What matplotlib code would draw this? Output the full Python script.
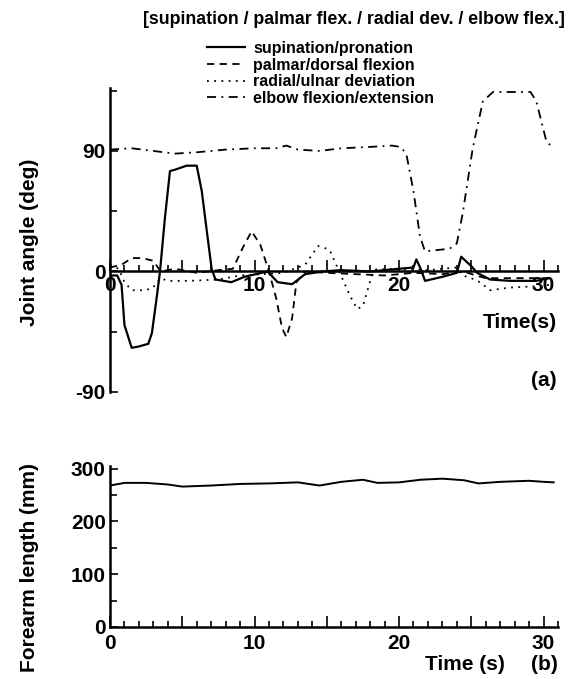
import numpy as np
import matplotlib.pyplot as plt
from matplotlib.ticker import MultipleLocator, FuncFormatter

plt.rcParams['font.family'] = ['Liberation Sans', 'DejaVu Sans']
plt.rcParams['font.weight'] = 'bold'
plt.rcParams['axes.unicode_minus'] = False

# joint angles (deg)
t_sup = [0, 0.5, 0.8, 1.0, 1.5, 2.0, 2.65, 2.9, 3.2, 3.46, 3.8, 4.15, 4.5, 5.3, 6.0, 6.35, 6.7, 7.04, 7.3,
         8.4, 9.3, 10.9, 11.6, 12.6, 13.5, 14.7, 16, 18, 20, 21.0, 21.2, 21.5, 21.8, 23.0, 24.0, 24.3,
         25.0, 25.4, 26.3, 27.7, 29.5, 30.4]
sup = [-3, -3, -10, -40, -57, -56, -54, -46, -22, 0, 40, 75, 76, 79, 79, 60, 30, 1.5, -6,
       -8, -4, 0, -8, -9.5, -2, 0, 1, 0, 2, 3, 9, 2, -7, -4, -1, 11, 4, -1, -6, -7, -7, -5]

t_pal = [0, 0.8, 1.5, 2.2, 3.0, 3.5, 4.5, 6, 7.5, 8.5, 9.2, 9.8, 10.4, 11.0, 11.5, 11.9, 12.2, 12.6, 12.9,
         13.5, 15, 17, 19, 21, 23, 24.5, 25.3, 26, 28, 30.4]
pal = [3, 5, 10, 10, 8, 0, 2, -1, 1, 2, 18, 30, 20, 0, -20, -42, -49, -35, -8,
       0, -1, -2, -3, -1, -2, 0, -3, -5, -5, -5]

t_rad = [0, 0.6, 1.0, 1.5, 2.2, 2.9, 3.5, 4.0, 5.5, 7.5, 9.0, 10.5, 12, 13.5, 14.4, 15.0, 15.2, 15.9,
         16.6, 17.1, 17.5, 18.1, 18.4, 20, 22, 24, 24.4, 25.0, 25.6, 26.3, 27.7, 29.5, 30.4]
rad = [5, 2, -8, -14, -14, -13, -5, -7, -7, -6, -3, -2, -1, 5, 19, 17, 16, -1,
       -18, -28, -26, -3.5, 1.5, 2, 1, 3, -3, -5, -8, -14, -12, -11, -10]

t_elb = [0, 1.5, 3, 4.5, 6, 8, 10, 11.5, 12.2, 13, 14.5, 16, 18, 19.5, 20.1, 20.5, 21.0, 21.45, 21.8,
         23.5, 24.0, 24.4, 25.1, 25.8, 26.5, 28, 29.1, 29.5, 30.2, 30.7]
elb = [91, 92, 90, 88, 89, 91, 92, 92, 94, 91, 90, 92, 93, 94, 93, 88, 60, 26, 15,
       17, 21, 43, 92, 127, 134, 134, 134, 127, 97, 92]

# forearm length (mm), panel (b)
t_len = [0, 1, 2.5, 4, 5, 7, 9, 11, 13, 14.5, 16, 17.5, 18.5, 20, 21.5, 23, 24.5, 25.5, 27, 29, 30, 30.7]
length = [268, 273, 273, 270, 266, 268, 271, 272, 274, 268, 275, 279, 273, 274, 279, 281, 278, 272,
          275, 277, 275, 274]

W, H = 582, 679
fig = plt.figure(figsize=(W / 100, H / 100), dpi=100)


def fx(px):
    return px / W


def fy(py):
    return 1 - py / H


fs = 15
ax1 = fig.add_axes([fx(110), fy(392), fx(558) - fx(110), fy(88) - fy(392)])
ax1.plot(t_sup, sup, '-', color='black', lw=1.6, label='supination/pronation')
ax1.plot(t_pal, pal, color='black', lw=1.3, ls=(0, (4, 3)), label='palmar/dorsal flexion')
ax1.plot(t_rad, rad, color='black', lw=1.3, ls=(0, (1, 3)), label='radial/ulnar deviation')
ax1.plot(t_elb, elb, color='black', lw=1.3, ls=(0, (5, 3, 1, 3)), label='elbow flexion/extension')
ax1.set_xlim(0, 31)
ax1.set_ylim(-90, 137)
ax1.spines['top'].set_visible(False)
ax1.spines['right'].set_visible(False)
ax1.spines['bottom'].set_position(('data', 0))
ax1.spines['left'].set_linewidth(1.8)
ax1.spines['bottom'].set_linewidth(1.8)
ax1.set_yticks([-90, 0, 90])
ax1.yaxis.set_minor_locator(MultipleLocator(45))

ax2 = fig.add_axes([fx(110), fy(627), fx(558) - fx(110), fy(466) - fy(627)])
ax2.plot(t_len, length, '-', color='black', lw=1.4)
ax2.set_xlim(0, 31)
ax2.set_ylim(0, 305)
ax2.spines['top'].set_visible(False)
ax2.spines['right'].set_visible(False)
ax2.spines['left'].set_linewidth(1.8)
ax2.spines['bottom'].set_linewidth(1.8)
ax2.set_yticks([0, 100, 200, 300])
ax2.yaxis.set_minor_locator(MultipleLocator(50))

lab = FuncFormatter(lambda v, p: '%d' % v if v % 10 == 0 else '')
for ax in (ax1, ax2):
    ax.xaxis.set_major_locator(MultipleLocator(5))
    ax.xaxis.set_minor_locator(MultipleLocator(1))
    ax.xaxis.set_major_formatter(lab)
    ax.tick_params(axis='both', which='both', direction='in', labelsize=fs, width=1.2)
    ax.tick_params(axis='x', which='major', length=8, pad=3)
    ax.tick_params(axis='x', which='minor', length=4)
    ax.tick_params(axis='y', which='major', length=6, pad=3)
    ax.tick_params(axis='y', which='minor', length=5)
    ax.patch.set_alpha(0)
ax2.tick_params(axis='x', which='major', pad=5)

# the "0" under the zero line of (a) sits just right of the spine
ax1.xaxis.get_major_ticks()[0].label1.set_horizontalalignment('left')

fig.text(fx(565), fy(20), '[supination / palmar flex. / radial dev. / elbow flex.]',
         ha='right', va='center', fontsize=12.8)
ax1.legend(loc='upper left', bbox_to_anchor=(fx(207), fy(41)), bbox_transform=fig.transFigure,
           frameon=False, fontsize=11.5, handlelength=2.4, handletextpad=0.5, labelspacing=0.1,
           borderpad=0, borderaxespad=0)
fig.text(fx(30), fy(242), 'Joint angle (deg)', rotation=90, ha='center', va='center', fontsize=fs)
fig.text(fx(30), fy(568), 'Forearm length (mm)', rotation=90, ha='center', va='center', fontsize=fs)
fig.text(fx(557), fy(322), 'Time(s)', ha='right', va='center', fontsize=fs)
fig.text(fx(557), fy(381), '(a)', ha='right', va='center', fontsize=fs)
fig.text(fx(505), fy(665), 'Time (s)', ha='right', va='center', fontsize=fs)
fig.text(fx(558), fy(665), '(b)', ha='right', va='center', fontsize=fs)

fig.savefig('out.png', dpi=100)
